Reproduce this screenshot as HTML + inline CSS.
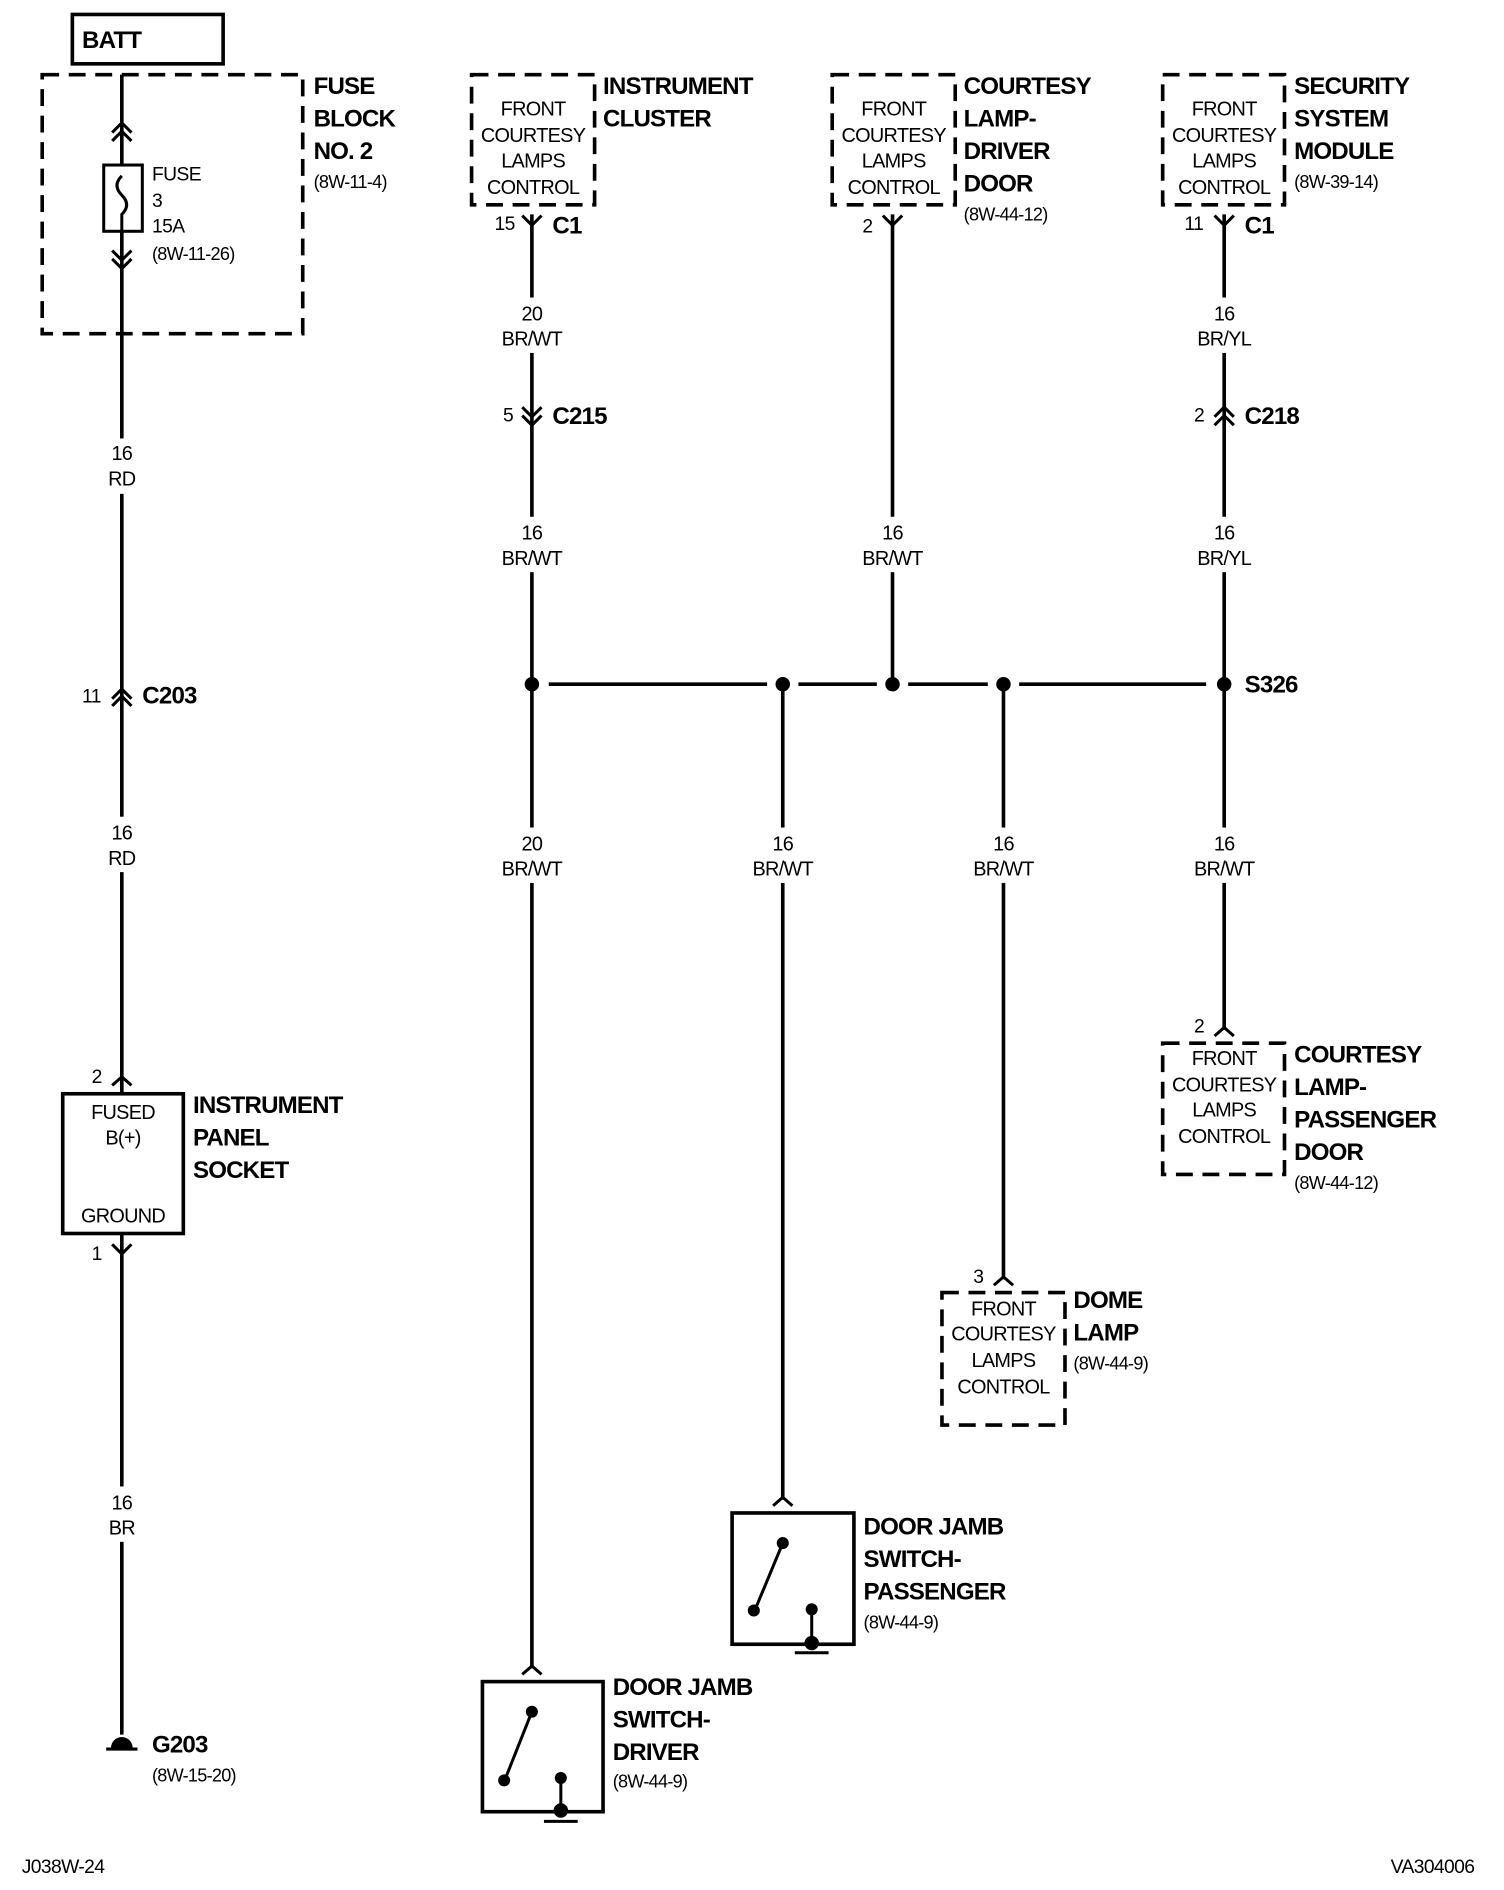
<!DOCTYPE html>
<html><head><meta charset="utf-8"><style>
html,body{margin:0;padding:0;background:#fff}
svg{display:block}
text{font-family:"Liberation Sans Narrow","Liberation Sans",sans-serif;fill:#000}
.b{font-weight:bold;font-size:20px;letter-spacing:-0.7px}
.s{font-size:16px;letter-spacing:-0.5px}
.m{font-size:16.5px;text-anchor:middle;letter-spacing:-0.6px}
.r{font-size:15px;letter-spacing:-0.6px}
</style></head><body>
<svg width="1504" height="1890" viewBox="0 0 1247 1569" preserveAspectRatio="none" xmlns="http://www.w3.org/2000/svg">
<g stroke="#000" stroke-width="3" fill="none">
<rect x="60" y="12" width="125" height="41"/>
<rect x="35" y="62" width="216" height="215" stroke-dasharray="14,8"/>
<line x1="101" y1="62" x2="101" y2="1440"/>
<rect x="52" y="908" width="100" height="116" fill="#fff"/>
<rect x="391" y="62" width="102" height="108" stroke-dasharray="14,8"/>
<rect x="690" y="62" width="102" height="108" stroke-dasharray="14,8"/>
<rect x="964" y="62" width="101" height="108" stroke-dasharray="14,8"/>
<rect x="964" y="866" width="101" height="109" stroke-dasharray="14,8"/>
<rect x="781" y="1073" width="102" height="110" stroke-dasharray="14,8"/>
<line x1="441" y1="178" x2="441" y2="1385"/>
<line x1="649" y1="568" x2="649" y2="1245"/>
<line x1="740" y1="178" x2="740" y2="568"/>
<line x1="832" y1="568" x2="832" y2="1062"/>
<line x1="1015" y1="178" x2="1015" y2="855"/>
<line x1="455" y1="568" x2="636" y2="568"/>
<line x1="662" y1="568" x2="727" y2="568"/>
<line x1="753" y1="568" x2="819" y2="568"/>
<line x1="845" y1="568" x2="1000" y2="568"/>
<rect x="400" y="1396" width="100" height="108"/>
<rect x="607" y="1256" width="101" height="109"/>
</g>
<g fill="#000">
<circle cx="441" cy="568" r="6"/><circle cx="649" cy="568" r="6"/><circle cx="740" cy="568" r="6"/><circle cx="832" cy="568" r="6"/><circle cx="1015" cy="568" r="6"/>
</g>
<g fill="#fff">
<rect x="85" y="364" width="34" height="46"/><rect x="85" y="678" width="34" height="46"/><rect x="85" y="1234" width="34" height="46"/>
<rect x="415" y="247" width="54" height="46"/><rect x="415" y="429" width="54" height="46"/><rect x="415" y="687" width="54" height="46"/>
<rect x="622" y="687" width="54" height="46"/><rect x="713" y="429" width="54" height="46"/><rect x="805" y="687" width="54" height="46"/>
<rect x="988" y="247" width="54" height="46"/><rect x="988" y="429" width="54" height="46"/><rect x="988" y="687" width="54" height="46"/>
<rect x="86" y="138" width="31" height="53"/>
</g>
<g stroke="#000" stroke-width="2.5" fill="none">
<rect x="86" y="137" width="32" height="55"/>
<path d="M101 146 q-8 8 0 16 q8 8 0 16 v14"/>
<path d="M93 110 l8-8 8 8 M93 117 l8-8 8 8"/>
<path d="M93 208 l8 8 8-8 M93 215 l8 8 8-8"/>
<path d="M93 580 l8-8 8 8 M93 586 l8-8 8 8"/>
<path d="M93 901 l8-7 8 7"/>
<path d="M93 1033 l8 8 8-8"/>
<path d="M433 179 l8 8 8-8"/><path d="M732 179 l8 8 8-8"/><path d="M1007 179 l8 8 8-8"/>
<path d="M433 338 l8 8 8-8 M433 345 l8 8 8-8"/>
<path d="M1007 346 l8-8 8 8 M1007 353 l8-8 8 8"/>
<path d="M1007 860 l8-7 8 7"/><path d="M824 1067 l8-7 8 7"/>
<path d="M433 1390 l8-7 8 7"/><path d="M641 1250 l8-7 8 7"/>
<line x1="441" y1="1421" x2="420" y2="1474"/>
<line x1="465" y1="1476" x2="465" y2="1505"/>
<line x1="451" y1="1512" x2="479" y2="1512"/>
<line x1="649" y1="1281" x2="627" y2="1334"/>
<line x1="673" y1="1336" x2="673" y2="1365"/>
<line x1="659" y1="1372" x2="687" y2="1372"/>
<line x1="88" y1="1452" x2="114" y2="1452"/>
</g>
<g fill="#000">
<circle cx="441" cy="1421" r="5"/><circle cx="418" cy="1478" r="5"/><circle cx="465" cy="1476" r="5"/><circle cx="465" cy="1503" r="6"/>
<circle cx="649" cy="1281" r="5"/><circle cx="625" cy="1337" r="5"/><circle cx="673" cy="1336" r="5"/><circle cx="673" cy="1364" r="6"/>
<path d="M92 1451 a9 9 0 0 1 18 0 z"/>
</g>
<text x="68" y="40" class="b">BATT</text>
<text class="b" x="260" y="78">FUSE</text><text class="b" x="260" y="105">BLOCK</text><text class="b" x="260" y="132">NO. 2</text><text class="r" x="260" y="156">(8W-11-4)</text>
<text class="s" x="126" y="150">FUSE</text><text class="s" x="126" y="172">3</text><text class="s" x="126" y="193">15A</text><text class="r" x="126" y="216">(8W-11-26)</text>
<text class="m" x="101" y="382">16</text><text class="m" x="101" y="403">RD</text>
<text class="s" x="68" y="583">11</text><text class="b" x="118" y="584">C203</text>
<text class="m" x="101" y="697">16</text><text class="m" x="101" y="718">RD</text>
<text class="s" x="76" y="899">2</text><text class="s" x="76" y="1046">1</text>
<text class="m" x="102" y="929">FUSED</text><text class="m" x="102" y="950">B(+)</text><text class="m" x="102" y="1015">GROUND</text>
<text class="b" x="160" y="924">INSTRUMENT</text><text class="b" x="160" y="951">PANEL</text><text class="b" x="160" y="978">SOCKET</text>
<text class="m" x="101" y="1253">16</text><text class="m" x="101" y="1274">BR</text>
<text class="b" x="126" y="1455">G203</text><text class="r" x="126" y="1479">(8W-15-20)</text>

<text class="m" x="442" y="96">FRONT</text><text class="m" x="442" y="118">COURTESY</text><text class="m" x="442" y="139">LAMPS</text><text class="m" x="442" y="161">CONTROL</text>
<text class="b" x="500" y="78">INSTRUMENT</text><text class="b" x="500" y="105">CLUSTER</text>
<text class="s" x="410" y="191">15</text><text class="b" x="458" y="194">C1</text>
<text class="m" x="441" y="266">20</text><text class="m" x="441" y="287">BR/WT</text>
<text class="s" x="417" y="350">5</text><text class="b" x="458" y="352">C215</text>
<text class="m" x="441" y="448">16</text><text class="m" x="441" y="469">BR/WT</text>
<text class="m" x="441" y="706">20</text><text class="m" x="441" y="727">BR/WT</text>
<text class="b" x="508" y="1407">DOOR JAMB</text><text class="b" x="508" y="1434">SWITCH-</text><text class="b" x="508" y="1461">DRIVER</text><text class="r" x="508" y="1484">(8W-44-9)</text>

<text class="m" x="649" y="706">16</text><text class="m" x="649" y="727">BR/WT</text>
<text class="b" x="716" y="1274">DOOR JAMB</text><text class="b" x="716" y="1301">SWITCH-</text><text class="b" x="716" y="1328">PASSENGER</text><text class="r" x="716" y="1352">(8W-44-9)</text>

<text class="m" x="741" y="96">FRONT</text><text class="m" x="741" y="118">COURTESY</text><text class="m" x="741" y="139">LAMPS</text><text class="m" x="741" y="161">CONTROL</text>
<text class="b" x="799" y="78">COURTESY</text><text class="b" x="799" y="105">LAMP-</text><text class="b" x="799" y="132">DRIVER</text><text class="b" x="799" y="159">DOOR</text><text class="r" x="799" y="183">(8W-44-12)</text>
<text class="s" x="715" y="193">2</text>
<text class="m" x="740" y="448">16</text><text class="m" x="740" y="469">BR/WT</text>

<text class="m" x="832" y="706">16</text><text class="m" x="832" y="727">BR/WT</text>
<text class="s" x="807" y="1065">3</text>
<text class="m" x="832" y="1092">FRONT</text><text class="m" x="832" y="1113">COURTESY</text><text class="m" x="832" y="1135">LAMPS</text><text class="m" x="832" y="1157">CONTROL</text>
<text class="b" x="890" y="1086">DOME</text><text class="b" x="890" y="1113">LAMP</text><text class="r" x="890" y="1137">(8W-44-9)</text>

<text class="m" x="1015" y="96">FRONT</text><text class="m" x="1015" y="118">COURTESY</text><text class="m" x="1015" y="139">LAMPS</text><text class="m" x="1015" y="161">CONTROL</text>
<text class="b" x="1073" y="78">SECURITY</text><text class="b" x="1073" y="105">SYSTEM</text><text class="b" x="1073" y="132">MODULE</text><text class="r" x="1073" y="156">(8W-39-14)</text>
<text class="s" x="982" y="191">11</text><text class="b" x="1032" y="194">C1</text>
<text class="m" x="1015" y="266">16</text><text class="m" x="1015" y="287">BR/YL</text>
<text class="s" x="990" y="350">2</text><text class="b" x="1032" y="352">C218</text>
<text class="m" x="1015" y="448">16</text><text class="m" x="1015" y="469">BR/YL</text>
<text class="b" x="1032" y="575">S326</text>
<text class="m" x="1015" y="706">16</text><text class="m" x="1015" y="727">BR/WT</text>
<text class="s" x="990" y="857">2</text>
<text class="m" x="1015" y="884">FRONT</text><text class="m" x="1015" y="906">COURTESY</text><text class="m" x="1015" y="927">LAMPS</text><text class="m" x="1015" y="949">CONTROL</text>
<text class="b" x="1073" y="882">COURTESY</text><text class="b" x="1073" y="909">LAMP-</text><text class="b" x="1073" y="936">PASSENGER</text><text class="b" x="1073" y="963">DOOR</text><text class="r" x="1073" y="987">(8W-44-12)</text>

<text class="s" x="18" y="1555">J038W-24</text>
<text class="s" x="1153" y="1555">VA304006</text>
</svg>
</body></html>
